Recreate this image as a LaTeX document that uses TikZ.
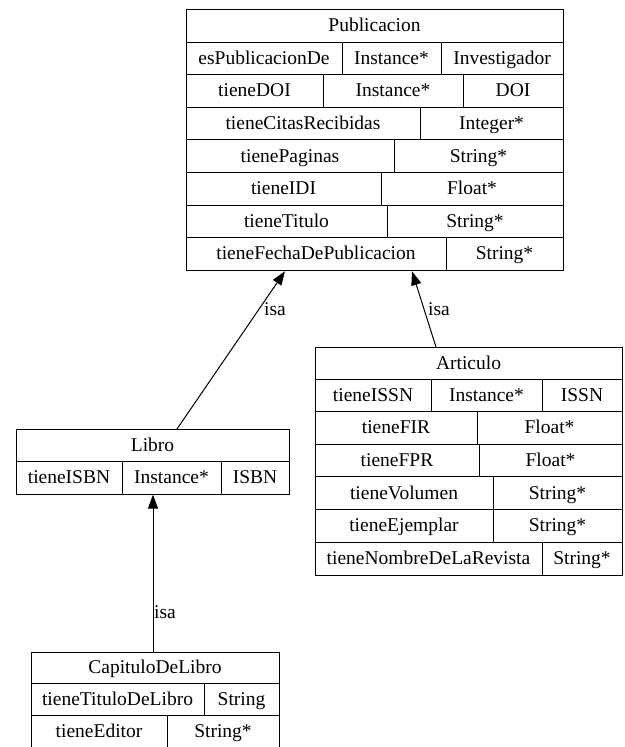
\documentclass[tikz,border=0pt]{standalone}
\usepackage{fontspec}
\setmainfont{Liberation Serif}
\usetikzlibrary{arrows.meta}
\tikzset{
  tbl/.style={draw, line width=1pt, inner sep=0pt, anchor=north west, fill=none},
  tline/.style={line width=1pt},
  cell/.style={font=\fontsize{19.5}{22}\selectfont, inner sep=0pt, anchor=base},
  lbl/.style={font=\fontsize{19.5}{22}\selectfont, inner sep=0pt, anchor=base west},
  isa/.style={line width=1pt, -{Triangle[length=14pt,width=10pt]}}
}
\newcommand{\rh}{32.6}
% name, x0, x1, ytop, ybot, text
\newcommand{\hdr}[6]{\node[cell] (#1) at ({(#2+#3)/2},{(#4+#5)/2+6}) {#6};}
% name, x0, x1, ytop, xd, textA, textB
\newcommand{\rtwo}[7]{%
  \draw[tline] (#2,#4) -- (#3,#4) (#5,#4) -- (#5,{#4+\rh});
  \node[cell] (#1a) at ({(#2+#5)/2},{#4+\rh/2+6}) {#6};
  \node[cell] (#1b) at ({(#5+#3)/2},{#4+\rh/2+6}) {#7};}
% name, x0, x1, ytop, xd1, xd2, textA, textB, textC
\newcommand{\rthree}[9]{%
  \draw[tline] (#2,#4) -- (#3,#4) (#5,#4) -- (#5,{#4+\rh}) (#6,#4) -- (#6,{#4+\rh});
  \node[cell] (#1a) at ({(#2+#5)/2},{#4+\rh/2+6}) {#7};
  \node[cell] (#1b) at ({(#5+#6)/2},{#4+\rh/2+6}) {#8};
  \node[cell] (#1c) at ({(#6+#3)/2},{#4+\rh/2+6}) {#9};}
\begin{document}
\begin{tikzpicture}[x=1pt,y=-1pt]
\useasboundingbox (0,0) rectangle (624,747);
\fill[white] (0,0) rectangle (624,747);
\clip (0,0) rectangle (624,747);

% Publicacion
\node[tbl, minimum width=377pt, minimum height=261.2pt] (pub) at (186,9) {};
\hdr{pubh}{186}{563}{9}{42}{Publicacion}
\rthree{pubA}{186}{563}{42}{342}{441}{esPublicacionDe}{Instance*}{Investigador}
\rthree{pubB}{186}{563}{74.6}{323}{463}{tieneDOI}{Instance*}{DOI}
\rtwo{pubC}{186}{563}{107.2}{420}{tieneCitasRecibidas}{Integer*}
\rtwo{pubD}{186}{563}{139.8}{394}{tienePaginas}{String*}
\rtwo{pubE}{186}{563}{172.4}{381}{tieneIDI}{Float*}
\rtwo{pubF}{186}{563}{205}{387}{tieneTitulo}{String*}
\rtwo{pubG}{186}{563}{237.6}{446}{tieneFechaDePublicacion}{String*}

% Articulo
\node[tbl, minimum width=307pt, minimum height=227.6pt] (art) at (315,347) {};
\hdr{arth}{315}{622}{347}{379}{Articulo}
\rthree{artA}{315}{622}{379}{431}{542}{tieneISSN}{Instance*}{ISSN}
\rtwo{artB}{315}{622}{411.6}{477}{tieneFIR}{Float*}
\rtwo{artC}{315}{622}{444.2}{479}{tieneFPR}{Float*}
\rtwo{artD}{315}{622}{476.8}{493}{tieneVolumen}{String*}
\rtwo{artE}{315}{622}{509.4}{493}{tieneEjemplar}{String*}
\rtwo{artF}{315}{622}{542}{542}{tieneNombreDeLaRevista}{String*}

% Libro
\node[tbl, minimum width=273pt, minimum height=64.6pt] (lib) at (16,429) {};
\hdr{libh}{16}{289}{429}{461}{Libro}
\rthree{libA}{16}{289}{461}{122}{221}{tieneISBN}{Instance*}{ISBN}

% CapituloDeLibro
\node[tbl, minimum width=248pt, minimum height=96.2pt] (cap) at (31,652) {};
\hdr{caph}{31}{279}{652}{683}{CapituloDeLibro}
\rtwo{capA}{31}{279}{683}{204}{tieneTituloDeLibro}{String}
\rtwo{capB}{31}{279}{715.6}{167}{tieneEditor}{String*}

% isa edges
\draw[isa] ([xshift=161pt]lib.north west) -- ([xshift=99pt]pub.south west);
\node[lbl] (isa1) at (264,315) {isa};
\draw[isa] ([xshift=121pt]art.north west) -- ([xshift=226pt]pub.south west);
\node[lbl] (isa2) at (428,315) {isa};
\draw[isa] ([xshift=122pt]cap.north west) -- ([xshift=137pt]lib.south west);
\node[lbl] (isa3) at (154,618) {isa};
\end{tikzpicture}
\end{document}
